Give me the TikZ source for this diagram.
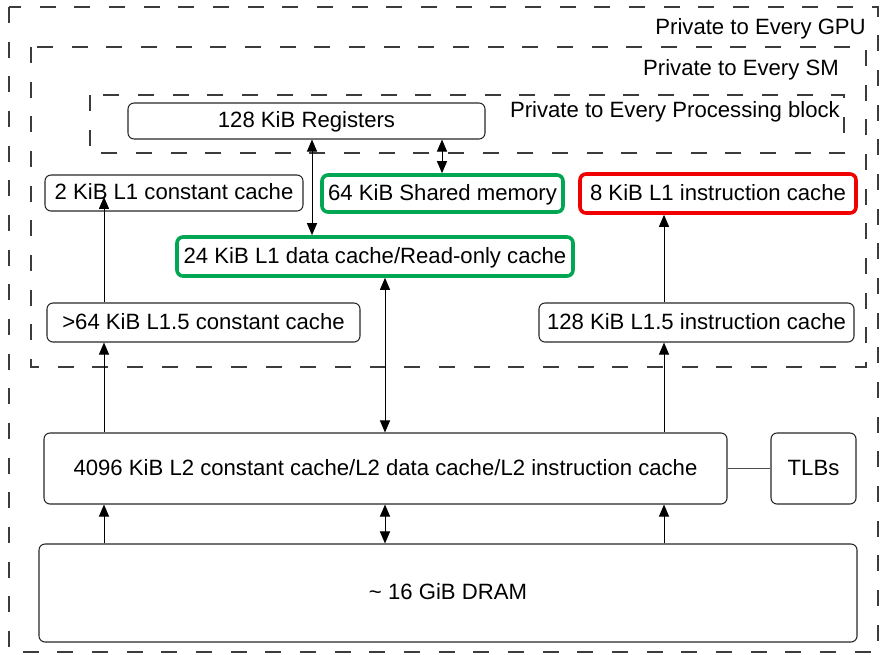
\documentclass[tikz,border=0pt]{standalone}
\usepackage{fontspec}
\setmainfont{Liberation Sans}
\usetikzlibrary{arrows.meta}
\definecolor{cgreen}{RGB}{0,166,81}
\definecolor{cred}{RGB}{240,0,0}
\definecolor{dashgray}{RGB}{60,60,60}
\begin{document}
\begin{tikzpicture}[x=0.75pt,y=-0.75pt,
  font=\fontsize{16.6}{19}\selectfont,
  box/.style={draw=black!85, line width=0.8pt, rounded corners=4.5pt, inner sep=0pt, align=center, text height=12pt, text depth=2pt},
  gbox/.style={box, draw=cgreen, line width=2.7pt},
  rbox/.style={box, draw=cred, line width=2.7pt},
  region/.style={draw=dashgray, line width=0.9pt, dash pattern=on 12pt off 14pt},
  tip/.style={line width=0.75pt, -{Triangle[length=9pt,width=7.5pt]}},
  dtip/.style={line width=0.75pt, {Triangle[length=9pt,width=7.5pt]}-{Triangle[length=9pt,width=7.5pt]}},
  lbl/.style={anchor=east, inner sep=0pt}]
\useasboundingbox (0,0) rectangle (881,654);
% regions
\draw[region] (9,7) rectangle (878,652);
\draw[region] (31,47) rectangle (866,367);
\draw[region] (90,95) rectangle (844,153);
\node[lbl] (tgpu) at (866,28.5) {Private to Every GPU};
\node[lbl] (tsm) at (839,69.5) {Private to Every SM};
\node[lbl] (tpb) at (840,111.5) {Private to Every Processing block};
% boxes
\node[box, minimum width=357*0.75pt, minimum height=36*0.75pt] (reg) at (306.5,121) {128 KiB Registers};
\node[box, minimum width=258*0.75pt, minimum height=36*0.75pt] (l1c) at (174,193) {2 KiB L1 constant cache};
\node[gbox, minimum width=241*0.75pt, minimum height=37*0.75pt] (shm) at (442.5,193.5) {64 KiB Shared memory};
\node[rbox, minimum width=276*0.75pt, minimum height=39*0.75pt] (l1i) at (718,193.5) {8 KiB L1 instruction cache};
\node[gbox, minimum width=396*0.75pt, minimum height=39*0.75pt] (l1d) at (375,256.5) {24 KiB L1 data cache/Read-only cache};
\node[box, minimum width=313*0.75pt, minimum height=39*0.75pt] (l15c) at (203.5,322.5) {>64 KiB L1.5 constant cache};
\node[box, minimum width=315*0.75pt, minimum height=39*0.75pt] (l15i) at (696.5,322.5) {128 KiB L1.5 instruction cache};
\node[box, minimum width=683*0.75pt, minimum height=71*0.75pt] (l2) at (385.5,468.5) {4096 KiB L2 constant cache/L2 data cache/L2 instruction cache};
\node[box, minimum width=85*0.75pt, minimum height=71*0.75pt] (tlb) at (813.5,468.5) {TLBs};
\node[box, minimum width=818*0.75pt, minimum height=98*0.75pt] (dram) at (448,593) {\textasciitilde{} 16 GiB DRAM};
% column coordinates
\coordinate (cc) at (104,0);
\coordinate (cr) at (312,0);
\coordinate (cs) at (442,0);
\coordinate (cd) at (385,0);
\coordinate (ci) at (664,0);
% connectors
\draw[dtip] (reg.south -| cr) -- (l1d.north -| cr);
\draw[dtip] (reg.south -| cs) -- (shm.north -| cs);
\draw[tip, shorten >=-11pt] (l15c.north -| cc) -- (l1c.south -| cc);
\draw[tip] (l2.north -| cc) -- (l15c.south -| cc);
\draw[tip] (dram.north -| cc) -- (l2.south -| cc);
\draw[dtip] (l1d.south -| cd) -- (l2.north -| cd);
\draw[dtip] (l2.south -| cd) -- (dram.north -| cd);
\draw[tip] (l15i.north -| ci) -- (l1i.south -| ci);
\draw[tip] (l2.north -| ci) -- (l15i.south -| ci);
\draw[tip] (dram.north -| ci) -- (l2.south -| ci);
\draw[line width=0.75pt, black!70] (l2.east) -- (tlb.west);
\end{tikzpicture}
\end{document}
